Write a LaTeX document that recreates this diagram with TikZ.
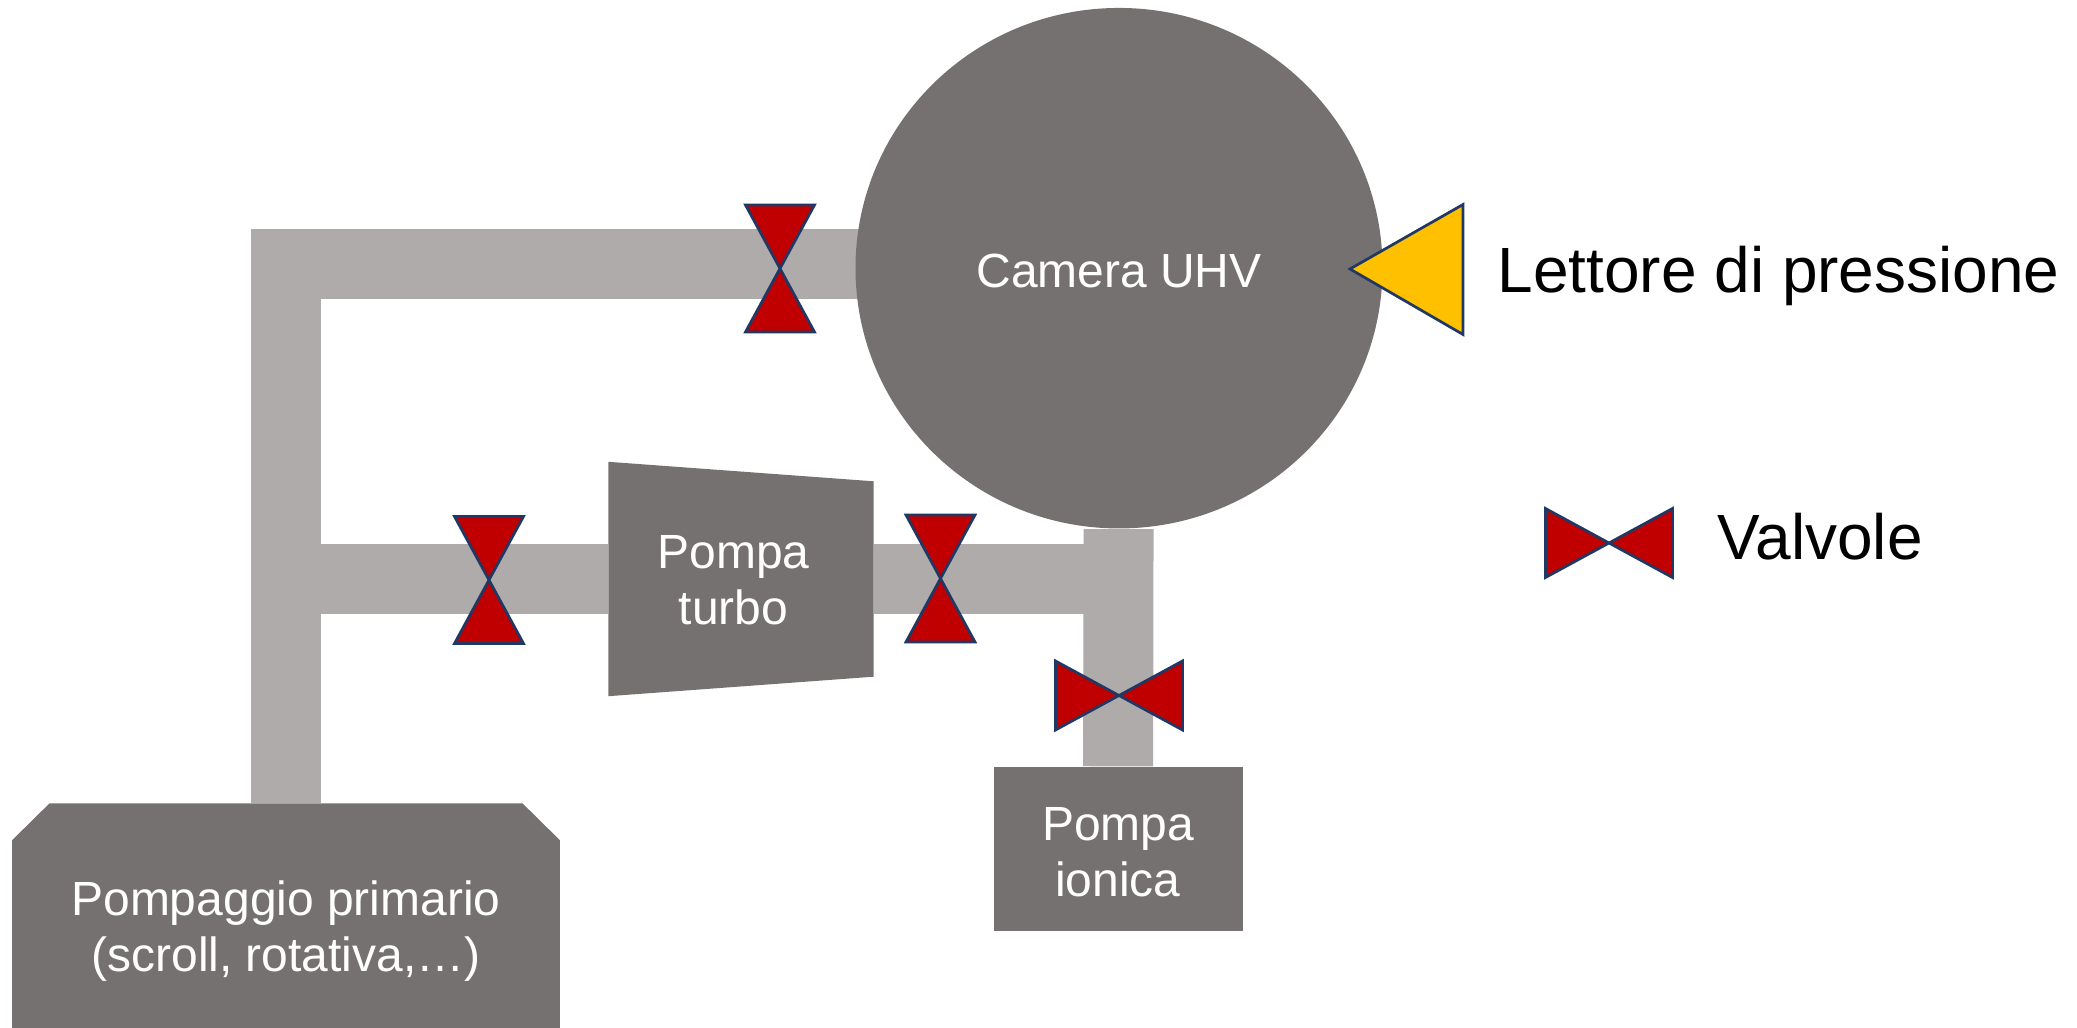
\documentclass[tikz,border=0pt]{standalone}
\usepackage{fontspec}
\setmainfont{Liberation Sans}
\usetikzlibrary{shapes.geometric, positioning, backgrounds}
\definecolor{machinegray}{HTML}{767171}
\definecolor{pipegray}{HTML}{AFABAB}
\definecolor{valvered}{HTML}{C00000}
\definecolor{gaugeyellow}{HTML}{FFC000}
\definecolor{edgenavy}{HTML}{1F3864}

\begin{document}
\begin{tikzpicture}[
  y=-1cm,
  machine/.style={fill=machinegray, inner sep=0pt},
  caption/.style={text=white, inner sep=0pt, align=center, yshift=-0.03cm,
                  font=\fontsize{13.65}{16}\selectfont},
  pipe/.style={draw=pipegray, line width=0.7cm},
  shut/.style={draw=edgenavy, fill=valvered, line width=0.027cm},
  legend/.style={anchor=base west, inner sep=0pt, font=\fontsize{18.2}{21}\selectfont},
  pics/valve/.style={code={
    \draw[shut] (-0.345,-0.635) -- (0.345,-0.635) -- (-0.345,0.635) -- (0.345,0.635) -- cycle;
  }},
]
  \useasboundingbox (0,0) rectangle (20.77,10.28);

  \node[machine, ellipse, minimum width=5.27cm, minimum height=5.205cm,
        label={[caption]center:Camera UHV}] (chamber) at (11.19,2.682) {};
  \node[inner sep=0pt, minimum width=2.64cm, minimum height=2.33cm,
        label={[caption, xshift=-0.075cm, yshift=0.015cm]center:Pompa\\turbo}] (turbo) at (7.41,5.79) {};
  \node[machine, minimum width=2.49cm, minimum height=1.64cm,
        label={[caption]center:Pompa\\ionica}] (ionic) at (11.18,8.49) {};
  \node[inner sep=0pt, minimum width=5.465cm, minimum height=2.24cm,
        label={[caption, yshift=-0.12cm]center:Pompaggio primario\\(scroll, rotativa,\dots)}]
        (primary) at (2.86,9.16) {};
  \coordinate (port) at (11.19,2.64);

  \begin{scope}[on background layer]
    \draw[pipe] (primary) |- (port);
    \draw[pipe] (primary.north |- turbo) -- (turbo);
    \draw[pipe] (turbo) -- (chamber.south |- turbo);
    \draw[pipe] (chamber) -- (ionic);
    \fill[machinegray] (turbo.north west) -- ([yshift=-0.195cm]turbo.north east)
      -- ([yshift=0.195cm]turbo.south east) -- (turbo.south west) -- cycle;
    \fill[machinegray] ([xshift=0.375cm]primary.north west) -- ([xshift=-0.375cm]primary.north east)
      -- ([yshift=-0.37cm]primary.north east) -- (primary.south east)
      -- (primary.south west) -- ([yshift=-0.37cm]primary.north west) -- cycle;
  \end{scope}

  \pic at (7.80,2.685) {valve};
  \pic at (4.89,5.80) {valve};
  \pic at (9.405,5.785) {valve};
  \pic[rotate=90] at (11.19,6.955) {valve};
  \pic[rotate=90] at (16.09,5.43) {valve};

  \draw[draw=edgenavy, fill=gaugeyellow, line width=0.027cm]
    (13.50,2.69) -- (14.63,2.045) -- (14.63,3.345) -- cycle;

  \node[legend] (gaugetext) at (14.97,2.93) {Lettore di pressione};
  \node[legend] (valvetext) at (17.17,5.60) {Valvole};
\end{tikzpicture}
\end{document}
